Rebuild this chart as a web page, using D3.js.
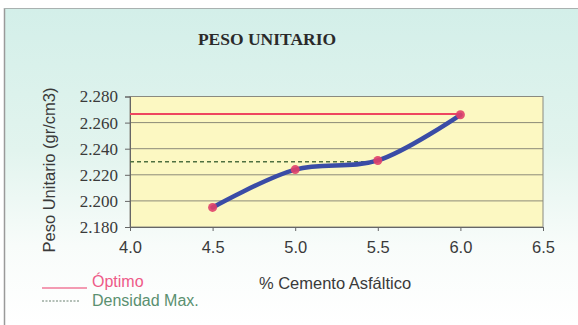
<!DOCTYPE html>
<html>
<head>
<meta charset="utf-8">
<script src="https://cdn.jsdelivr.net/npm/d3@7"></script>
<style>
  html, body { margin: 0; padding: 0; background: #ffffff; }
  svg { display: block; }
</style>
</head>
<body>
<svg id="chart" width="578" height="325"></svg>
<script>
// Asphalt content (%) and unit weight (gr/cm3)
const asphaltPct = [4.5, 5.0, 5.5, 6.0];
const unitWeight = [2.195, 2.224, 2.231, 2.266];

// Reference levels
const optimoValue = 2.2665;
const optimoUntil = 6.0;
const densidadMaxValue = 2.230;
const densidadMaxUntil = 5.5;

const xTicks = [4.0, 4.5, 5.0, 5.5, 6.0, 6.5];
const yTicks = [2.18, 2.20, 2.22, 2.24, 2.26, 2.28];

const svg = d3.select("#chart");
const W = 578, H = 325;
const m = { left: 130, right: 543, top: 96.5, bottom: 227 };

// Chart background with soft cyan-to-white gradient
const defs = svg.append("defs");
const grad = defs.append("linearGradient").attr("id", "bg").attr("x1", 0).attr("y1", 0).attr("x2", 0).attr("y2", 1);
grad.append("stop").attr("offset", "0%").attr("stop-color", "#d3efe9");
grad.append("stop").attr("offset", "45%").attr("stop-color", "#e2f4ee");
grad.append("stop").attr("offset", "75%").attr("stop-color", "#f8fcfa");
grad.append("stop").attr("offset", "100%").attr("stop-color", "#ffffff");

svg.append("rect").attr("x", 0).attr("y", 0).attr("width", W).attr("height", H).attr("fill", "#ffffff");
svg.append("rect").attr("x", 5).attr("y", 8).attr("width", W - 5).attr("height", H - 8).attr("fill", "url(#bg)");
svg.append("line").attr("x1", 4.5).attr("x2", 4.5).attr("y1", 8).attr("y2", H).attr("stroke", "#9a9a9a").attr("stroke-width", 1.5);
svg.append("line").attr("x1", 4).attr("x2", W).attr("y1", 8.5).attr("y2", 8.5).attr("stroke", "#a9b1b0").attr("stroke-width", 1.2);

const x = d3.scaleLinear().domain([4.0, 6.5]).range([m.left, m.right]);
const y = d3.scaleLinear().domain([2.18, 2.28]).range([m.bottom, m.top]);

// Plot area
svg.append("rect")
  .attr("x", m.left).attr("y", m.top)
  .attr("width", m.right - m.left).attr("height", m.bottom - m.top)
  .attr("fill", "#fcf8c2").attr("stroke", "#8a8a80").attr("stroke-width", 1);

// Horizontal gridlines
svg.append("g").selectAll("line").data(yTicks.slice(1, -1)).join("line")
  .attr("x1", m.left).attr("x2", m.right)
  .attr("y1", d => y(d)).attr("y2", d => y(d))
  .attr("stroke", "#8c8a78").attr("stroke-width", 1);

// Axes
const yAxis = d3.axisLeft(y).tickValues(yTicks).tickFormat(d3.format(".3f")).tickSize(5).tickPadding(7);
const gy = svg.append("g").attr("transform", `translate(${m.left},0)`).call(yAxis);
gy.select(".domain").attr("stroke", "#666");
gy.selectAll(".tick line").attr("stroke", "#666");
gy.selectAll("text").attr("font-family", "'Liberation Serif', 'Times New Roman', serif")
  .attr("font-size", 17).attr("fill", "#3a3a3a");

const xAxis = d3.axisBottom(x).tickValues(xTicks).tickFormat(d3.format(".1f")).tickSize(4).tickPadding(10);
const gx = svg.append("g").attr("transform", `translate(0,${m.bottom})`).call(xAxis);
gx.select(".domain").attr("stroke", "#666");
gx.selectAll(".tick line").attr("stroke", "#666");
gx.selectAll("text").attr("font-family", "'Liberation Sans', Arial, sans-serif")
  .attr("font-size", 16.5).attr("fill", "#3a3a3a");

// Reference lines
svg.append("line")
  .attr("x1", x(4.0)).attr("x2", x(optimoUntil))
  .attr("y1", y(optimoValue)).attr("y2", y(optimoValue))
  .attr("stroke", "#ee4660").attr("stroke-width", 2);
svg.append("line")
  .attr("x1", x(4.0)).attr("x2", x(densidadMaxUntil))
  .attr("y1", y(densidadMaxValue)).attr("y2", y(densidadMaxValue))
  .attr("stroke", "#4f7040").attr("stroke-width", 1.4).attr("stroke-dasharray", "4,3");

// Smoothed series
const pts = asphaltPct.map((d, i) => [d, unitWeight[i]]);
const line = d3.line().x(d => x(d[0])).y(d => y(d[1])).curve(d3.curveCatmullRom.alpha(0.5));
svg.append("path").datum(pts).attr("d", line)
  .attr("fill", "none").attr("stroke", "#3a4ca6").attr("stroke-width", 4.5).attr("stroke-linecap", "round");

svg.append("g").selectAll("circle").data(pts).join("circle")
  .attr("cx", d => x(d[0])).attr("cy", d => y(d[1])).attr("r", 4.5)
  .attr("fill", "#e0406a").attr("opacity", 0.9);

// Title
svg.append("text").attr("x", 267).attr("y", 45).attr("text-anchor", "middle")
  .attr("font-family", "'Liberation Serif', 'Times New Roman', serif").attr("font-weight", "bold")
  .attr("font-size", 17.5).attr("fill", "#2a2a2a").text("PESO UNITARIO");

// Axis titles
svg.append("text").attr("transform", "translate(55,170) rotate(-90)").attr("text-anchor", "middle")
  .attr("font-family", "'Liberation Sans', Arial, sans-serif").attr("font-size", 16.5).attr("fill", "#3a3a3a")
  .text("Peso Unitario (gr/cm3)");
svg.append("text").attr("x", 335).attr("y", 289).attr("text-anchor", "middle")
  .attr("font-family", "'Liberation Sans', Arial, sans-serif").attr("font-size", 16.5).attr("fill", "#3a3a3a")
  .text("% Cemento Asfáltico");

// Legend
svg.append("line").attr("x1", 42).attr("x2", 87).attr("y1", 288).attr("y2", 288)
  .attr("stroke", "#f07a9a").attr("stroke-width", 1.6);
svg.append("text").attr("x", 92).attr("y", 287)
  .attr("font-family", "'Liberation Sans', Arial, sans-serif").attr("font-size", 16).attr("fill", "#ee5a88")
  .text("Óptimo");
svg.append("line").attr("x1", 42).attr("x2", 80).attr("y1", 301).attr("y2", 301)
  .attr("stroke", "#6a8070").attr("stroke-width", 1.2).attr("stroke-dasharray", "2,1.5");
svg.append("text").attr("x", 92).attr("y", 306)
  .attr("font-family", "'Liberation Sans', Arial, sans-serif").attr("font-size", 16).attr("fill", "#5a9070")
  .text("Densidad Max.");
</script>
</body>
</html>
